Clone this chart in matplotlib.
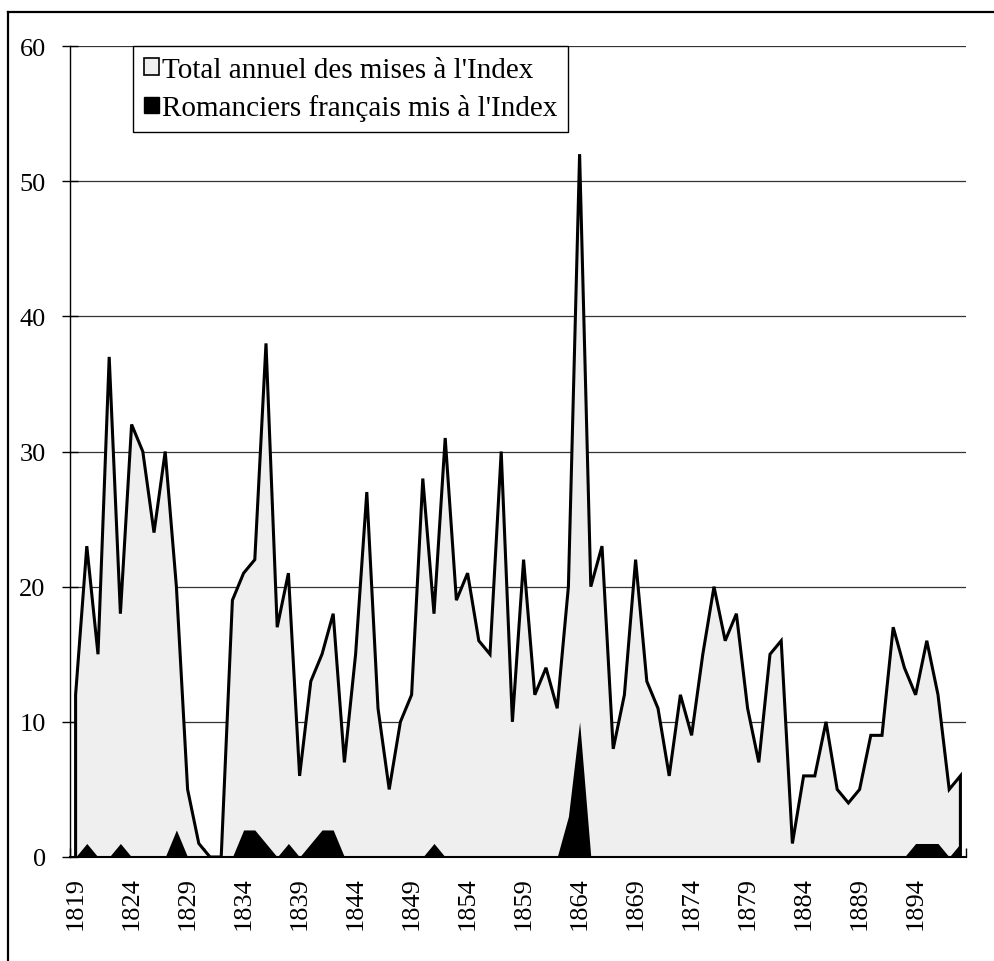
"""
Mises à l'Index, 1819-1898: total annuel et romanciers français.
"""
import numpy as np
import matplotlib
matplotlib.use("Agg")
from matplotlib import pyplot as plt
from matplotlib.patches import Patch
from matplotlib.lines import Line2D

years = list(range(1819, 1899))

total_index = [
    12, 23, 15, 37, 18, 32, 30, 24, 30, 20,   # 1819-1828
    5, 1, 0, 0, 19, 21, 22, 38, 17, 21,       # 1829-1838
    6, 13, 15, 18, 7, 15, 27, 11, 5, 10,      # 1839-1848
    12, 28, 18, 31, 19, 21, 16, 15, 30, 10,   # 1849-1858
    22, 12, 14, 11, 20, 52, 20, 23, 8, 12,    # 1859-1868
    22, 13, 11, 6, 12, 9, 15, 20, 16, 18,     # 1869-1878
    11, 7, 15, 16, 1, 6, 6, 10, 5, 4,         # 1879-1888
    5, 9, 9, 17, 14, 12, 16, 12, 5, 6,        # 1889-1898
]

romanciers = [
    0, 1, 0, 0, 1, 0, 0, 0, 0, 2,
    0, 0, 0, 0, 0, 2, 2, 1, 0, 1,
    0, 1, 2, 2, 0, 0, 0, 0, 0, 0,
    0, 0, 1, 0, 0, 0, 0, 0, 0, 0,
    0, 0, 0, 0, 3, 10, 0, 0, 0, 0,
    0, 0, 0, 0, 0, 0, 0, 0, 0, 0,
    0, 0, 0, 0, 0, 0, 0, 0, 0, 0,
    0, 0, 0, 0, 0, 1, 1, 1, 0, 1,
]

legend_labels = ["Total annuel des mises à l'Index", "Romanciers français mis à l'Index"]

plt.rcParams.update({
    'font.family': ['Liberation Serif', 'DejaVu Serif'],
    'font.size': 19,
})

fig = plt.figure(figsize=(9.94, 9.62), dpi=100)
ax = fig.add_axes([70 / 994, 1 - 858 / 962, 896 / 994, 811 / 962])

x = np.arange(len(years))
tot = np.array(total_index)
rom = np.array(romanciers)

ax.fill_between(x, 0, tot, color='#efefef', lw=0, zorder=2)
# contour de l'aire, bords verticaux compris
ax.plot(np.r_[x[0], x, x[-1]], np.r_[0, tot, 0], color='black', lw=2.2,
        solid_joinstyle='miter', zorder=3)
ax.fill_between(x, 0, rom, color='black', lw=0, zorder=4)

ax.set_xlim(-0.5, len(years) - 0.5)
ax.set_ylim(0, 60)

ax.set_yticks(range(0, 61, 10))
ax.yaxis.grid(True, color='#333333', lw=0.9, zorder=1)
ax.tick_params(axis='y', direction='inout', length=11, width=1, pad=12)

ax.set_xticks(x[::5])
ax.set_xticklabels([str(y) for y in years[::5]], rotation=90, va='top')
ax.set_xticks(np.r_[-0.5, np.arange(1.5, len(years), 2)], minor=True)
ax.tick_params(axis='x', which='major', length=0, pad=14)
ax.tick_params(axis='x', which='minor', direction='in', length=6.5, width=1)

for side in ['top', 'right']:
    ax.spines[side].set_visible(False)
ax.spines['left'].set_linewidth(1.0)
ax.spines['bottom'].set_linewidth(1.5)
ax.spines['bottom'].set_zorder(5)
ax.set_axisbelow(True)

handles = [Patch(facecolor='#efefef', edgecolor='black', lw=1.2),
           Patch(facecolor='black', edgecolor='black')]
leg = ax.legend(handles, legend_labels, loc='upper left',
                bbox_to_anchor=(63 / 896, 1.0), borderaxespad=0,
                fancybox=False, framealpha=1, edgecolor='black',
                fontsize=21, handlelength=0.5, handleheight=0.5,
                handletextpad=0.1, borderpad=0.38, labelspacing=0.38)
leg.get_frame().set_linewidth(1.0)
leg.set_zorder(10)

# cadre extérieur (coupé à droite et en bas)
fig.add_artist(Line2D([8 / 994, 1], [1 - 13 / 962] * 2, color='black', lw=1.6))
fig.add_artist(Line2D([8 / 994] * 2, [0, 1 - 13 / 962], color='black', lw=1.6))

fig.savefig('out.png', dpi=100)
